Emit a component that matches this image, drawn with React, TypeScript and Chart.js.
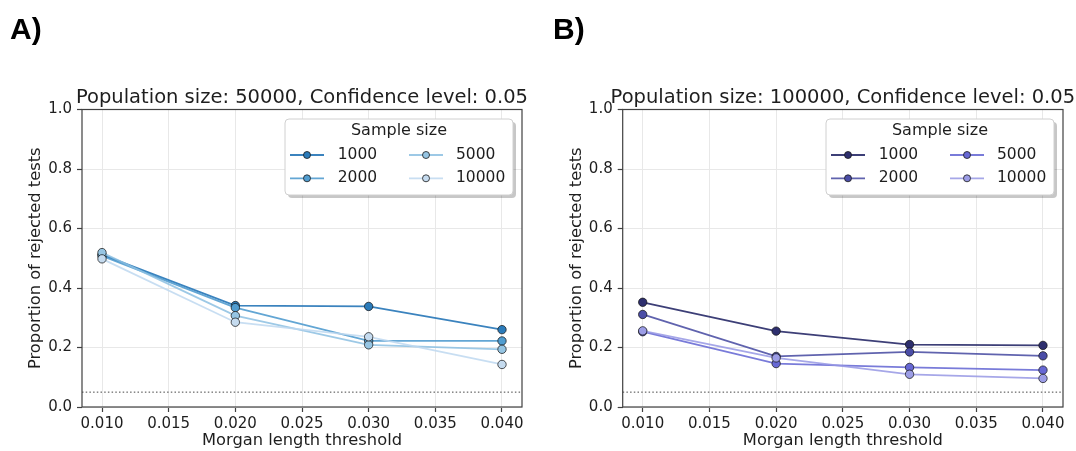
import React, { useEffect, useRef } from 'react';
import { Chart, registerables } from 'chart.js';

Chart.register(...registerables);

// Morgan length thresholds on the x axis
const thresholds = [0.01, 0.02, 0.03, 0.04];
const sampleSizes = ['1000', '2000', '5000', '10000'];

// Population 50000: proportion of rejected tests per sample size
const popA_1000 = [0.512, 0.341, 0.338, 0.26];
const popA_2000 = [0.508, 0.334, 0.222, 0.222];
const popA_5000 = [0.519, 0.307, 0.209, 0.194];
const popA_10000 = [0.498, 0.285, 0.236, 0.143];

// Population 100000: proportion of rejected tests per sample size
const popB_1000 = [0.352, 0.255, 0.21, 0.207];
const popB_2000 = [0.311, 0.17, 0.185, 0.172];
const popB_5000 = [0.253, 0.146, 0.133, 0.124];
const popB_10000 = [0.256, 0.165, 0.11, 0.096];

const xLimits = [0.0085, 0.0415];
const xStep = 0.005;
const yStep = 0.2;
const alphaLevel = 0.05;

const bluesLine = ['rgba(38,118,183,0.9)', 'rgba(72,150,204,0.85)', 'rgba(140,192,226,0.85)', 'rgba(190,216,240,0.85)'];
const bluesFill = ['#2b7bba', '#519dd0', '#96c5e3', '#c5dbef'];
const purplesLine = ['rgba(40,42,104,0.9)', 'rgba(68,72,160,0.85)', 'rgba(98,100,210,0.85)', 'rgba(150,152,228,0.85)'];
const purplesFill = ['#2e2f6e', '#4a4da6', '#6768d4', '#9c9de6'];

const FONT = 'DejaVu Sans';
const TEXT = '#1e1e1e';
const SPINE = '#404040';

const W = 538;
const H = 451;

function roundRect(ctx: CanvasRenderingContext2D, x: number, y: number, w: number, h: number, r: number) {
  ctx.beginPath();
  ctx.moveTo(x + r, y);
  ctx.lineTo(x + w - r, y);
  ctx.arcTo(x + w, y, x + w, y + r, r);
  ctx.lineTo(x + w, y + h - r);
  ctx.arcTo(x + w, y + h, x + w - r, y + h, r);
  ctx.lineTo(x + r, y + h);
  ctx.arcTo(x, y + h, x, y + h - r, r);
  ctx.lineTo(x, y + r);
  ctx.arcTo(x, y, x + r, y, r);
  ctx.closePath();
}

// Panel title, dotted significance line, frame on all four sides and the two-column legend
const panelDecor = {
  id: 'panelDecor',
  beforeDatasetsDraw(chart: any) {
    const { ctx, chartArea: a, scales } = chart;
    const y = scales.y.getPixelForValue(alphaLevel);
    ctx.save();
    ctx.strokeStyle = '#444444';
    ctx.lineWidth = 1;
    ctx.setLineDash([1.5, 2.2]);
    ctx.beginPath();
    ctx.moveTo(a.left, y);
    ctx.lineTo(a.right, y);
    ctx.stroke();
    ctx.restore();
  },
  afterDatasetsDraw(chart: any, _args: any, opts: any) {
    const { ctx, chartArea: a } = chart;
    ctx.save();

    ctx.fillStyle = TEXT;
    ctx.font = `19.5px "${FONT}"`;
    ctx.textAlign = 'center';
    ctx.textBaseline = 'alphabetic';
    ctx.fillText(opts.text, (a.left + a.right) / 2, a.top - 6.5);

    ctx.strokeStyle = SPINE;
    ctx.lineWidth = 1.2;
    ctx.strokeRect(a.left, a.top, a.right - a.left, a.bottom - a.top);

    // legend box
    const w = 228;
    const h = 76;
    const bx = a.right - 9 - w;
    const by = a.top + 9.5;
    ctx.fillStyle = 'rgba(0,0,0,0.22)';
    roundRect(ctx, bx + 3, by + 3, w, h, 4);
    ctx.fill();
    ctx.fillStyle = '#ffffff';
    roundRect(ctx, bx, by, w, h, 4);
    ctx.fill();
    ctx.strokeStyle = '#d0d0d0';
    ctx.lineWidth = 1;
    ctx.stroke();

    ctx.fillStyle = TEXT;
    ctx.font = `16px "${FONT}"`;
    ctx.textAlign = 'center';
    ctx.textBaseline = 'middle';
    ctx.fillText('Sample size', bx + w / 2, by + 12);

    ctx.font = `15.5px "${FONT}"`;
    chart.data.datasets.forEach((ds: any, i: number) => {
      const col = i < 2 ? 0 : 1;
      const row = i % 2;
      const hx0 = bx + (col ? 124 : 5);
      const yy = by + (row ? 59.3 : 36);
      ctx.strokeStyle = ds.borderColor;
      ctx.lineWidth = 1.8;
      ctx.beginPath();
      ctx.moveTo(hx0, yy);
      ctx.lineTo(hx0 + 34, yy);
      ctx.stroke();
      ctx.beginPath();
      ctx.arc(hx0 + 17, yy, 3.5, 0, Math.PI * 2);
      ctx.fillStyle = ds.pointBackgroundColor;
      ctx.fill();
      ctx.strokeStyle = '#1a1a1a';
      ctx.lineWidth = 0.8;
      ctx.stroke();
      ctx.fillStyle = TEXT;
      ctx.textAlign = 'left';
      ctx.fillText(ds.label, bx + (col ? 171 : 52.7), yy);
    });
    ctx.restore();
  },
};

type PanelProps = {
  left: number;
  title: string;
  series: number[][];
  lineColors: string[];
  fillColors: string[];
  plotLeft: number;
  plotRight: number;
};

function Panel({ left, title, series, lineColors, fillColors, plotLeft, plotRight }: PanelProps) {
  const ref = useRef<HTMLCanvasElement>(null);

  useEffect(() => {
    if (!ref.current) return;
    const tickFont = { family: FONT, size: 15 };
    const labelFont = { family: FONT, size: 16.3 };
    const chart = new Chart(ref.current, {
      type: 'line',
      data: {
        datasets: series.map((vals, i) => ({
          label: sampleSizes[i],
          data: thresholds.map((x, j) => ({ x, y: vals[j] })),
          borderColor: lineColors[i],
          borderWidth: 1.8,
          pointBackgroundColor: fillColors[i],
          pointBorderColor: 'rgba(20,20,20,0.9)',
          pointBorderWidth: 0.8,
          pointRadius: 4.2,
          tension: 0,
          order: series.length - i,
        })),
      },
      options: {
        animation: false,
        responsive: false,
        devicePixelRatio: 1,
        layout: { padding: { left: 0, right: W - plotRight, top: 109.5, bottom: 0 } },
        plugins: {
          legend: { display: false },
          tooltip: { enabled: false },
          title: { display: false },
          panelDecor: { text: title },
        },
        scales: {
          x: {
            type: 'linear',
            min: xLimits[0],
            max: xLimits[1],
            ticks: {
              stepSize: xStep,
              includeBounds: false,
              autoSkip: false,
              maxRotation: 0,
              padding: 3,
              color: TEXT,
              font: tickFont,
              callback: (v: any) => Number(v).toFixed(3),
            },
            grid: { color: '#e8e8e8', tickColor: SPINE, tickLength: 5, tickWidth: 1.2 },
            border: { display: false },
            title: {
              display: true,
              text: 'Morgan length threshold',
              color: TEXT,
              font: labelFont,
              padding: { top: 0, bottom: 0 },
            },
            afterFit: (s: any) => {
              s.height = H - 407;
            },
          },
          y: {
            min: 0,
            max: 1,
            ticks: {
              stepSize: yStep,
              padding: 5,
              color: TEXT,
              font: tickFont,
              callback: (v: any) => Number(v).toFixed(1),
            },
            grid: { color: '#e8e8e8', tickColor: SPINE, tickLength: 5, tickWidth: 1.2 },
            border: { display: false },
            title: {
              display: true,
              text: 'Proportion of rejected tests',
              color: TEXT,
              font: labelFont,
              padding: { top: plotLeft - 46 - 9.8, bottom: 0 },
            },
            afterFit: (s: any) => {
              s.width = plotLeft;
            },
          },
        },
      },
      plugins: [panelDecor],
    } as any);
    return () => chart.destroy();
  }, []);

  return (
    <canvas
      ref={ref}
      width={W}
      height={H}
      style={{ position: 'absolute', left, top: 0, width: W, height: H }}
    />
  );
}

const tagStyle: React.CSSProperties = {
  position: 'absolute',
  top: 14,
  fontFamily: '"Liberation Sans", Arial, sans-serif',
  fontWeight: 'bold',
  fontSize: 30,
  lineHeight: '30px',
  color: '#000',
  margin: 0,
};

export default function App() {
  return (
    <div style={{ position: 'absolute', left: 0, top: 0, width: 1076, height: 451, background: '#fff', overflow: 'hidden' }}>
      <Panel
        left={0}
        title="Population size: 50000, Confidence level: 0.05"
        series={[popA_1000, popA_2000, popA_5000, popA_10000]}
        lineColors={bluesLine}
        fillColors={bluesFill}
        plotLeft={82}
        plotRight={522}
      />
      <Panel
        left={538}
        title="Population size: 100000, Confidence level: 0.05"
        series={[popB_1000, popB_2000, popB_5000, popB_10000]}
        lineColors={purplesLine}
        fillColors={purplesFill}
        plotLeft={84.7}
        plotRight={525}
      />
      <div style={{ ...tagStyle, left: 10 }}>A)</div>
      <div style={{ ...tagStyle, left: 553 }}>B)</div>
    </div>
  );
}
